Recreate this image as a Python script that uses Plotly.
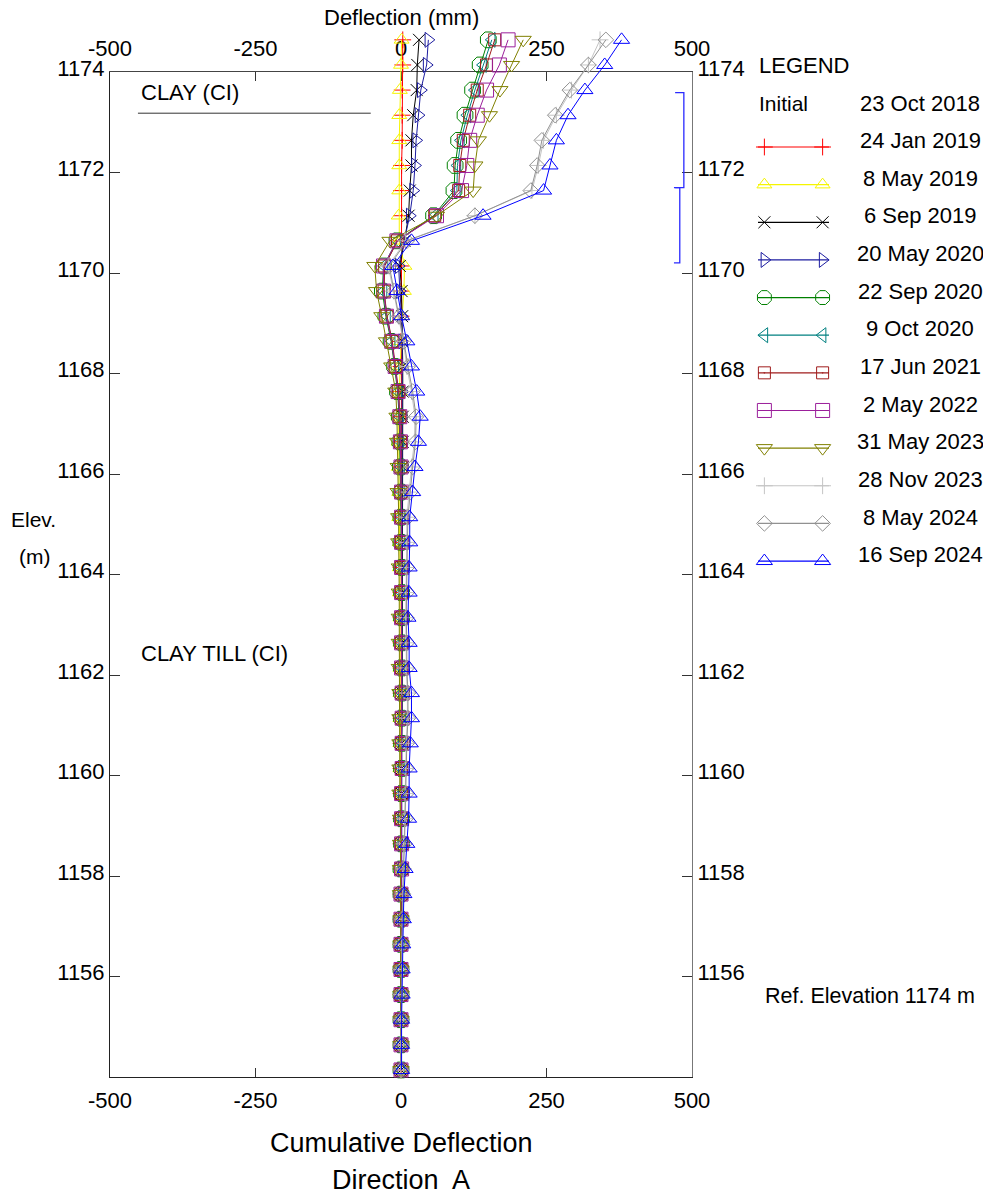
import plotly.graph_objects as go

W, H = 983, 1196
FONT = "Liberation Sans, Arial, sans-serif"

# Inclinometer reading depths (elevation, m)
elevation_m = [1174.64, 1174.14, 1173.64, 1173.14, 1172.64, 1172.14, 1171.64, 1171.14,
               1170.64, 1170.14, 1169.64, 1169.14, 1168.64, 1168.14, 1167.64, 1167.14,
               1166.64, 1166.14, 1165.64, 1165.14, 1164.64, 1164.14, 1163.64, 1163.14,
               1162.64, 1162.14, 1161.64, 1161.14, 1160.64, 1160.14, 1159.64, 1159.14,
               1158.64, 1158.14, 1157.64, 1157.14, 1156.64, 1156.14, 1155.64, 1155.14,
               1154.64, 1154.14]

# Cumulative deflection (mm), direction A, per survey date
defl_24jan2019 = [3, 3, 2, 2, 2, 1, 1, 1, 0, 0, 0, 0, 0, 0, 0, 0, 0, 0, 0, 0, 0,
                  0, 0, 0, 0, 0, 0, 0, 0, 0, 0, 0, 0, 0, 0, 0, 0, 0, 0, 0, 0, 0]
defl_8may2019 = [1, 0, -2, -3, -3, -3, -3, -4, -3, 6, 5, 2, 0, -2, -3, -4, -4, -4, -3, -3, -2,
                 -2, -2, -1, -1, -1, -1, -1, -1, -1, 0, 0, 0, 0, 0, 0, 0, 0, 0, 0, 0, 0]
defl_6sep2019 = [31, 28, 27, 21, 18, 18, 15, 13, 6, -2, 1, 2, 2, 3, 3, 3, 3, 3, 3, 3, 2,
                 2, 2, 2, 2, 2, 2, 2, 1, 1, 1, 1, 1, 1, 1, 0, 0, 0, 0, 0, 0, 0]
defl_20may2020 = [47, 44, 34, 30, 26, 24, 21, 15, 5, -4, -2, 1, 2, 2, 2, 2, 2, 2, 2, 2, 2,
                  2, 2, 2, 2, 2, 2, 2, 1, 1, 1, 1, 1, 1, 1, 1, 0, 0, 0, 0, 0, 0]
defl_22sep2020 = [150, 136, 123, 110, 99, 93, 91, 56, -7, -30, -32, -26, -17, -11, -6, -3, -2, -1, 0, 0, 0,
                  1, 1, 1, 1, 1, 1, 1, 1, 1, 1, 1, 1, 0, 0, 0, 0, 0, 0, 0, 0, 0]
defl_9oct2020 = [156, 141, 127, 114, 103, 97, 96, 58, -6, -29, -30, -24, -16, -10, -5, -2, -1, 0, 1, 1, 1,
                 1, 1, 1, 1, 1, 2, 2, 2, 1, 1, 1, 1, 1, 0, 0, 0, 0, 0, 0, 0, 0]
defl_17jun2021 = [161, 147, 131, 118, 107, 101, 99, 58, -6, -28, -29, -24, -15, -9, -4, -2, -1, 0, 0, 1, 1,
                  1, 1, 1, 1, 1, 1, 1, 1, 1, 1, 1, 1, 0, 0, 0, 0, 0, 0, 0, 0, 0]
defl_2may2022 = [184, 169, 147, 131, 118, 113, 104, 61, -7, -30, -30, -25, -16, -10, -5, -2, -1, 0, 1, 1, 1,
                 1, 1, 1, 1, 1, 2, 2, 2, 2, 1, 1, 1, 1, 0, 0, 0, 0, 0, 0, 0, 0]
defl_31may2023 = [210, 190, 170, 152, 133, 127, 124, 61, -19, -45, -42, -33, -25, -16, -9, -7, -6, -5, -5, -4, -4,
                  -3, -3, -3, -3, -3, -2, -2, -2, -2, -2, -1, -1, -1, -1, 0, 0, 0, 0, 0, 0, 0]
defl_28nov2023 = [342, 322, 293, 267, 245, 236, 225, 127, 8, -22, -13, -4, 4, 10, 18, 24, 23, 18, 14, 10, 10,
                  9, 9, 8, 9, 9, 11, 11, 9, 8, 8, 7, 5, 4, 3, 2, 1, 1, 1, 0, 0, 0]
defl_8may2024 = [352, 322, 290, 265, 242, 234, 223, 127, 10, -20, -12, -3, 5, 12, 20, 26, 25, 20, 16, 12, 11,
                 10, 10, 9, 10, 10, 12, 12, 10, 9, 9, 8, 6, 4, 3, 2, 2, 1, 1, 1, 0, 0]
defl_16sep2024 = [379, 350, 316, 287, 267, 256, 245, 141, 18, -14, -7, 1, 10, 18, 27, 33, 30, 24, 20, 15, 15,
                  14, 14, 12, 14, 14, 18, 18, 16, 14, 14, 13, 10, 7, 5, 4, 3, 2, 2, 1, 1, 1]

survey_dates = ["24 Jan 2019", "8 May 2019", "6 Sep 2019", "20 May 2020", "22 Sep 2020",
                "9 Oct 2020", "17 Jun 2021", "2 May 2022", "31 May 2023", "28 Nov 2023",
                "8 May 2024", "16 Sep 2024"]
survey_values = [defl_24jan2019, defl_8may2019, defl_6sep2019, defl_20may2020, defl_22sep2020,
                 defl_9oct2020, defl_17jun2021, defl_2may2022, defl_31may2023, defl_28nov2023,
                 defl_8may2024, defl_16sep2024]

# Styles per survey: colour, marker symbol, marker size
colors = ["#ff0000", "#f5f500", "#000000", "#1c1ca0", "#008000", "#008080",
          "#a01c1c", "#9b1f9b", "#808000", "#c4c4c4", "#919191", "#0000ff"]
symbols = ["cross-thin-open", "triangle-up-open", "x-thin-open", "triangle-right-open",
           "octagon-open", "triangle-left-open", "square-open-dot", "square-open",
           "triangle-down-open", "cross-thin-open", "diamond-open", "triangle-up-open"]
sizes = [12, 13, 12, 13, 17, 13, 12, 14, 14, 12, 12, 14]

x_ticks = [-500, -250, 0, 250, 500]
y_ticks = [1156, 1158, 1160, 1162, 1164, 1166, 1168, 1170, 1172, 1174]
X_RANGE = [-500, 500]
Y_RANGE = [1154, 1174]
Y_DATA_TOP = 1174.8  # readings run slightly above the frame top

# figure geometry (pixels)
PX_L, PX_R, PX_T, PX_B = 110, 692, 72, 1077
LEG_X0, LEG_X1 = 758, 829
LEG_ROW0, LEG_ROW_STEP = 147, 37.64


def px(x):
    return x / W


def py(y):
    return 1 - y / H


px_per_m = (PX_B - PX_T) / (Y_RANGE[1] - Y_RANGE[0])
data_top_px = PX_T - (Y_DATA_TOP - Y_RANGE[1]) * px_per_m

fig = go.Figure()

# carrier traces so the framed axes are drawn
fig.add_trace(go.Scatter(x=defl_16sep2024, y=elevation_m, mode="markers",
                         marker=dict(opacity=0), showlegend=False, hoverinfo="skip"))
fig.add_trace(go.Scatter(x=defl_16sep2024, y=elevation_m, xaxis="x2", yaxis="y2",
                         mode="markers", marker=dict(opacity=0), showlegend=False,
                         hoverinfo="skip"))

# deflection profiles
for name, vals, c, s, sz in zip(survey_dates, survey_values, colors, symbols, sizes):
    fig.add_trace(go.Scatter(
        x=vals, y=elevation_m, xaxis="x4", yaxis="y4", mode="lines+markers", name=name,
        line=dict(color=c, width=1),
        marker=dict(symbol=s, size=sz, color=c, line=dict(color=c, width=1)),
        cliponaxis=False, showlegend=False, hoverinfo="x+y+name",
    ))

# legend samples on their own small axes
n_rows = len(survey_dates)
for k, (name, c, s, sz) in enumerate(zip(survey_dates, colors, symbols, sizes)):
    fig.add_trace(go.Scatter(x=[0, 1], y=[k, k], xaxis="x3", yaxis="y3", mode="lines",
                             line=dict(color=c, width=1.2), showlegend=False, hoverinfo="skip"))
    fig.add_trace(go.Scatter(x=[0.09, 0.91], y=[k, k], xaxis="x3", yaxis="y3", mode="markers",
                             marker=dict(symbol=s, size=min(sz, 15), color=c,
                                         line=dict(color=c, width=1)),
                             showlegend=False, hoverinfo="skip", cliponaxis=False))

axis_font = dict(family=FONT, size=22, color="#000")
common_x = dict(range=X_RANGE, tickvals=x_ticks, ticktext=[str(v) for v in x_ticks],
                ticks="inside", ticklen=9, tickcolor="#333", showgrid=False, zeroline=False,
                showline=True, tickfont=axis_font, fixedrange=True)
common_y = dict(range=Y_RANGE, tickvals=y_ticks, ticks="inside", ticklen=10,
                tickcolor="#333", showgrid=False, zeroline=False, showline=True,
                tickfont=axis_font, fixedrange=True, ticklabelshift=-4)

leg_top = LEG_ROW0 - 0.5 * LEG_ROW_STEP
leg_bot = LEG_ROW0 + (n_rows - 0.5) * LEG_ROW_STEP

fig.update_layout(
    width=W, height=H, margin=dict(l=0, r=0, t=0, b=0, autoexpand=False),
    paper_bgcolor="white", plot_bgcolor="rgba(0,0,0,0)",
    font=dict(family=FONT, color="#000"),
    xaxis=dict(common_x, domain=[px(PX_L), px(PX_R)], anchor="y", side="bottom",
               linecolor="#222", ticklabelstandoff=4),
    xaxis2=dict(common_x, overlaying="x", anchor="y", side="top", linecolor="#444",
                ticklabelstandoff=6),
    yaxis=dict(common_y, domain=[py(PX_B), py(PX_T)], anchor="x", side="left",
               linecolor="#222", ticklabelstandoff=0),
    yaxis2=dict(common_y, overlaying="y", anchor="x", side="right", linecolor="#777",
                ticklabelstandoff=0),
    xaxis4=dict(domain=[px(PX_L), px(PX_R)], range=X_RANGE, visible=False,
                anchor="y4", fixedrange=True),
    yaxis4=dict(domain=[py(PX_B), py(data_top_px)], range=[Y_RANGE[0], Y_DATA_TOP],
                visible=False, anchor="x4", fixedrange=True),
    xaxis3=dict(domain=[px(LEG_X0), px(LEG_X1)], range=[0, 1], visible=False,
                anchor="y3", fixedrange=True),
    yaxis3=dict(domain=[py(leg_bot), py(leg_top)], range=[n_rows - 0.5, -0.5],
                visible=False, anchor="x3", fixedrange=True),
)

ann = []


def text(t, x, y, size=22, xanchor="left", xref="paper", yref="paper"):
    ann.append(dict(text=t, x=x, y=y, xref=xref, yref=yref, xanchor=xanchor,
                    yanchor="middle", showarrow=False,
                    font=dict(family=FONT, size=size, color="#000")))


text("Deflection (mm)", px(401), py(18), xanchor="center")
text("Cumulative Deflection", px(401), py(1143), size=27, xanchor="center")
text("Direction  A", px(401), py(1180), size=27, xanchor="center")
text("Elev.", px(9), py(519), size=21)
text("(m)", px(17), py(556), size=21)
text("LEGEND", px(757), py(66))
text("Initial", px(757), py(103), size=21)
text("23 Oct 2018", px(920), py(103), xanchor="center")
for k, name in enumerate(survey_dates):
    text(name, px(920), k - 0.17, xanchor="center", yref="y3")
text("Ref. Elevation 1174 m", px(763), py(996), size=21.5)

# soil strata labels
CLAY_TOP_BOUNDARY = 1173.18
text("CLAY (CI)", -450, 1173.6, xref="x", yref="y")
text("CLAY TILL (CI)", -450, 1162.42, xref="x", yref="y")
fig.update_layout(annotations=ann)

shapes = [
    dict(type="line", xref="x", yref="y", x0=-452, x1=-52, y0=CLAY_TOP_BOUNDARY,
         y1=CLAY_TOP_BOUNDARY, line=dict(color="#333", width=1)),
    dict(type="path", xref="x", yref="y",
         path="M 471 1173.59 L 486 1173.59 L 486 1171.7 L 471 1171.7",
         line=dict(color="#2a2aff", width=1.3)),
    dict(type="path", xref="x", yref="y",
         path="M 469 1171.7 L 479 1171.7 L 479 1170.2 L 469 1170.2",
         line=dict(color="#2a2aff", width=1.3)),
]
fig.update_layout(shapes=shapes)

fig.write_html("out.html")
